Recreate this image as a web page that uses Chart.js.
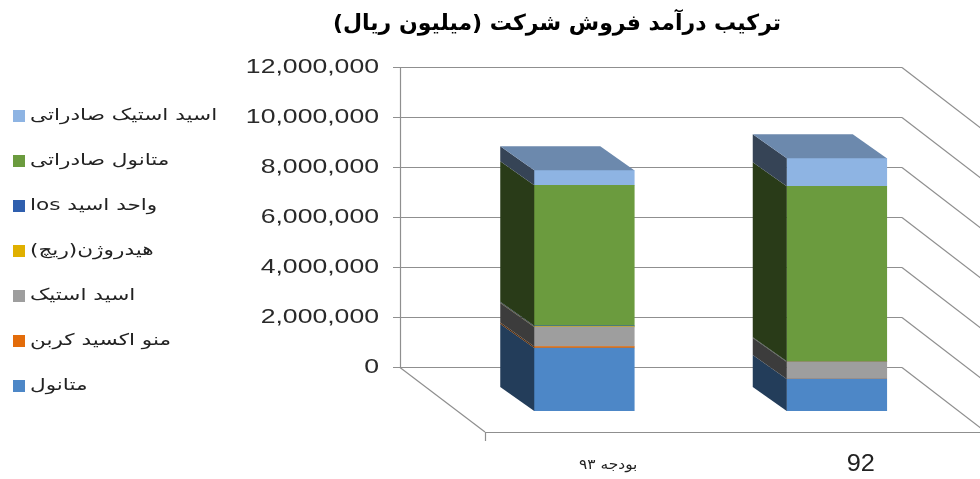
<!DOCTYPE html>
<html>
<head>
<meta charset="utf-8">
<script src="https://cdn.jsdelivr.net/npm/chart.js@4.4.0/dist/chart.umd.min.js"></script>
<style>
  html, body { margin: 0; padding: 0; background: #fff; }
  #wrap { width: 980px; height: 479px; }
</style>
</head>
<body>
<div id="wrap"><canvas id="chart" width="980" height="479"></canvas></div>
<script>
// data
const chartTitle = 'ترکیب درآمد فروش شرکت (میلیون ریال)';
const categories = ['بودجه ۹۳', '92'];
const seriesNames = ['متانول', 'منو اکسید کربن', 'اسید استیک', 'هیدروژن(ریچ)', 'واحد اسید los', 'متانول صادراتی', 'اسید استیک صادراتی'];
const methanol = [2520000, 1280000];
const carbonMonoxide = [60000, 0];
const aceticAcid = [780000, 680000];
const hydrogen = [20000, 10000];
const losUnit = [30000, 20000];
const exportMethanol = [5620000, 7000000];
const exportAcetic = [600000, 1120000];
const yTicks = [0, 2000000, 4000000, 6000000, 8000000, 10000000, 12000000];

const seriesValues = [methanol, carbonMonoxide, aceticAcid, hydrogen, losUnit, exportMethanol, exportAcetic];
const colors = ['#4D87C7', '#E36C0A', '#9E9E9E', '#E0B000', '#2F5FAE', '#6B9B3E', '#8EB4E3'];

// 3d look
const DX = 34, DY = 24;       // bar depth
const WALL_DY = 44;           // back wall is above the bar fronts
const wallLeft = 400, wallRight = 902;
const floorX = 485, floorY = 432;

function shade(hex, f) {
    const n = parseInt(hex.slice(1), 16);
    const r = Math.round(((n >> 16) & 255) * f);
    const g = Math.round(((n >> 8) & 255) * f);
    const b = Math.round((n & 255) * f);
    return `rgb(${r},${g},${b})`;
}

function isPersian(t) {
    return /[\u0600-\u06FF]/.test(t);
}

function drawText(ctx, text, x, y, font, align, sx, color) {
    ctx.save();
    ctx.font = font;
    ctx.fillStyle = color || '#222';
    ctx.textAlign = align;
    ctx.textBaseline = 'middle';
    ctx.direction = isPersian(text) ? 'rtl' : 'ltr';
    ctx.translate(x, y);
    ctx.scale(sx, 1);
    ctx.fillText(text, 0, 0);
    ctx.restore();
}

function line(ctx, x1, y1, x2, y2) {
    ctx.beginPath();
    ctx.moveTo(x1, y1);
    ctx.lineTo(x2, y2);
    ctx.stroke();
}

const wall3d = {
    id: 'wall3d',
    beforeDatasetsDraw(chart) {
        const ctx = chart.ctx;
        const y = chart.scales.y;
        ctx.save();
        ctx.strokeStyle = '#8f8f8f';
        ctx.lineWidth = 1.2;
        let top = 0, bottom = 0;
        yTicks.forEach((v, i) => {
            const wy = Math.round(y.getPixelForValue(v) - WALL_DY) + 0.5;
            if (i === 0) bottom = wy;
            top = wy;
            line(ctx, 393, wy, wallRight, wy);
            line(ctx, wallRight, wy, 1000, wy + (1000 - wallRight) * 0.77);
            drawText(ctx, v.toLocaleString('en-US'), 379, wy, '20px "Liberation Sans"', 'right', 1.33, '#2a2a2a');
        });
        line(ctx, wallLeft + 0.5, top, wallLeft + 0.5, bottom);
        // floor
        line(ctx, wallLeft, bottom, floorX, floorY);
        line(ctx, floorX, floorY + 0.5, 980, floorY + 0.5);
        line(ctx, floorX + 0.5, floorY, floorX + 0.5, floorY + 9);
        ctx.restore();
    },
    afterDatasetsDraw(chart) {
        const ctx = chart.ctx;
        ctx.save();
        const tops = {};
        chart.data.datasets.forEach((ds, di) => {
            const meta = chart.getDatasetMeta(di);
            meta.data.forEach((bar, i) => {
                if (!ds.data[i]) return;
                const left = bar.x - bar.width / 2;
                ctx.fillStyle = shade(colors[di], di === 0 ? 0.45 : 0.38);
                ctx.beginPath();
                ctx.moveTo(left, bar.y);
                ctx.lineTo(left, bar.base);
                ctx.lineTo(left - DX, bar.base - DY);
                ctx.lineTo(left - DX, bar.y - DY);
                ctx.closePath();
                ctx.fill();
                tops[i] = { bar, color: colors[di] };
            });
        });
        Object.values(tops).forEach(({ bar, color }) => {
            const left = bar.x - bar.width / 2, right = bar.x + bar.width / 2;
            ctx.fillStyle = shade(color, 0.76);
            ctx.beginPath();
            ctx.moveTo(left, bar.y);
            ctx.lineTo(right, bar.y);
            ctx.lineTo(right - DX, bar.y - DY);
            ctx.lineTo(left - DX, bar.y - DY);
            ctx.closePath();
            ctx.fill();
        });
        ctx.restore();
    },
    afterDraw(chart) {
        const ctx = chart.ctx;
        const x = chart.scales.x;
        // title
        drawText(ctx, chartTitle, 557, 24, 'bold 22px "DejaVu Sans"', 'center', 1.0, '#000');
        // category labels sit on the floor front edge
        categories.forEach((c, i) => {
            const px = x.getPixelForValue(i) + 24;
            if (isPersian(c)) drawText(ctx, c, px, 465, '14px "DejaVu Sans"', 'center', 1.1, '#222');
            else drawText(ctx, c, px, 465, '23px "Liberation Sans"', 'center', 1.1, '#222');
        });
        // legend, top of stack first
        for (let k = 0; k < seriesNames.length; k++) {
            const di = seriesNames.length - 1 - k;
            const ly = 116 + k * 45;
            ctx.fillStyle = colors[di];
            ctx.fillRect(13, ly - 6, 12, 12);
            drawText(ctx, seriesNames[di], 30, ly, '16px "DejaVu Sans"', 'left', 1.35, '#222');
        }
    }
};

new Chart(document.getElementById('chart').getContext('2d'), {
    type: 'bar',
    data: {
        labels: categories,
        datasets: seriesNames.map((name, i) => ({
            label: name,
            data: seriesValues[i],
            backgroundColor: colors[i],
            barThickness: 100
        }))
    },
    options: {
        responsive: false,
        animation: false,
        layout: { padding: { left: 458, right: 17, top: 111, bottom: 68 } },
        scales: {
            x: { display: false, stacked: true },
            y: { display: false, stacked: true, min: 0, max: 12000000 }
        },
        plugins: {
            legend: { display: false },
            title: { display: false },
            tooltip: { enabled: false }
        }
    },
    plugins: [wall3d]
});
</script>
</body>
</html>
